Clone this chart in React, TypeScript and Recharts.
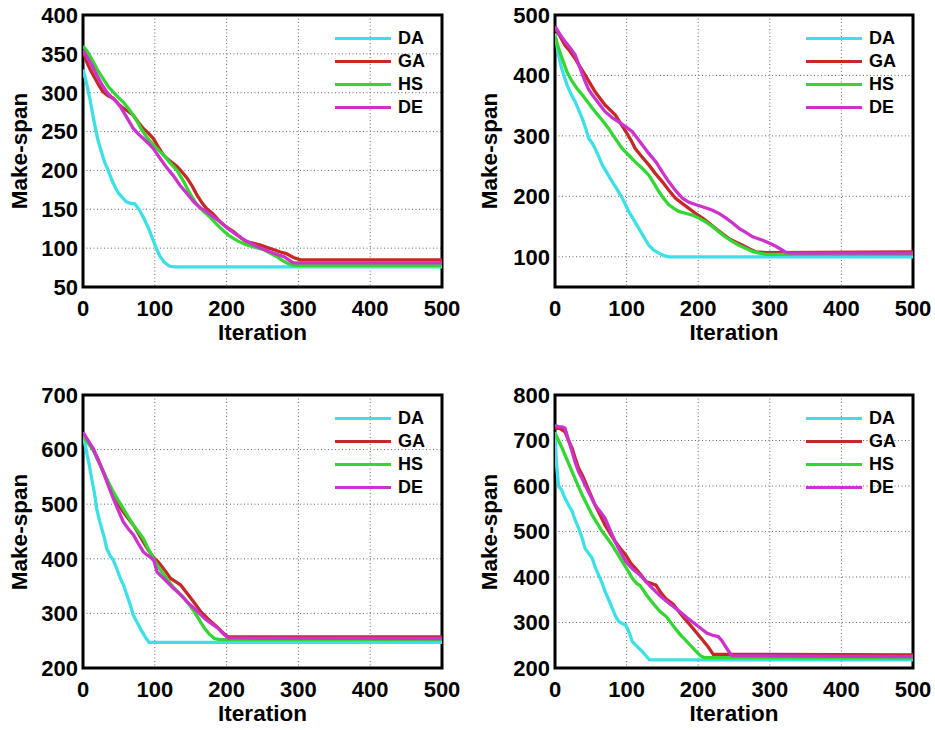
import React from "react"
import {
  LineChart,
  Line,
  XAxis,
  YAxis,
  CartesianGrid,
  ReferenceArea,
  Legend,
} from "recharts"

const FONT = "'Liberation Sans', Arial, Helvetica, sans-serif"

const SERIES_NAMES = ["DA", "GA", "HS", "DE"]
const SERIES_COLORS = ["#3ee0e8", "#c62828", "#33d633", "#cc33cc"]
const X_TICKS = [0, 100, 200, 300, 400, 500]

// [iteration, make-span]
const P1_DA = [[0, 330], [5, 312], [10, 290], [15, 265], [20, 242], [25, 226], [30, 211], [35, 200], [40, 188], [45, 178], [50, 170], [55, 165], [60, 160], [65, 158], [72, 157], [78, 150], [85, 138], [92, 124], [97, 112], [102, 100], [107, 90], [113, 82], [120, 77], [126, 76], [500, 76]]
const P1_GA = [[0, 355], [5, 340], [10, 330], [17, 318], [23, 308], [28, 301], [35, 296], [42, 293], [50, 285], [56, 280], [63, 276], [70, 271], [77, 262], [84, 254], [91, 248], [98, 241], [105, 230], [112, 220], [120, 213], [131, 205], [138, 198], [145, 190], [152, 180], [159, 168], [166, 158], [172, 151], [180, 145], [191, 134], [200, 127], [210, 121], [220, 113], [228, 108], [238, 106], [247, 104], [256, 101], [266, 98], [275, 95], [283, 93], [293, 88], [303, 85], [500, 85]]
const P1_HS = [[0, 360], [7, 352], [14, 340], [21, 328], [28, 318], [35, 308], [42, 301], [49, 294], [56, 288], [63, 280], [70, 271], [76, 262], [82, 252], [88, 244], [94, 237], [102, 229], [112, 220], [121, 210], [131, 200], [140, 186], [149, 170], [158, 157], [168, 147], [178, 139], [187, 130], [196, 122], [205, 115], [216, 109], [228, 104], [240, 101], [252, 98], [262, 93], [270, 89], [278, 84], [286, 80], [293, 78], [500, 78]]
const P1_DE = [[0, 355], [5, 347], [12, 336], [19, 323], [26, 311], [33, 301], [40, 294], [47, 288], [52, 282], [56, 276], [63, 265], [70, 254], [77, 247], [84, 241], [91, 235], [98, 228], [107, 216], [117, 203], [126, 193], [135, 181], [145, 170], [154, 160], [163, 152], [172, 147], [182, 140], [191, 134], [202, 125], [214, 117], [226, 110], [238, 104], [250, 99], [261, 95], [270, 92], [280, 89], [288, 84], [293, 81], [500, 81]]

const P2_DA = [[0, 470], [4, 440], [8, 417], [13, 398], [17, 384], [22, 370], [28, 357], [33, 343], [38, 329], [43, 312], [47, 296], [52, 288], [56, 279], [61, 266], [66, 252], [73, 238], [80, 224], [87, 211], [94, 197], [99, 185], [103, 175], [110, 161], [117, 147], [124, 133], [131, 119], [138, 111], [145, 106], [152, 102], [159, 100], [500, 100]]
const P2_GA = [[0, 478], [7, 465], [14, 450], [21, 440], [28, 428], [35, 414], [42, 401], [49, 387], [56, 373], [63, 362], [70, 351], [77, 343], [84, 335], [91, 322], [99, 307], [106, 293], [112, 279], [121, 266], [131, 252], [140, 238], [150, 224], [159, 210], [168, 197], [178, 188], [187, 180], [196, 172], [206, 164], [215, 156], [224, 147], [234, 138], [243, 130], [253, 124], [262, 119], [272, 113], [281, 108], [295, 107], [500, 108]]
const P2_HS = [[0, 465], [5, 445], [10, 428], [17, 405], [24, 390], [31, 378], [38, 368], [47, 354], [56, 340], [66, 326], [75, 312], [84, 296], [94, 279], [103, 268], [112, 257], [122, 246], [131, 235], [138, 222], [145, 208], [152, 196], [159, 186], [166, 180], [173, 175], [182, 172], [192, 169], [201, 164], [210, 158], [220, 150], [229, 141], [238, 133], [248, 125], [257, 119], [266, 114], [276, 109], [285, 106], [295, 104], [500, 104]]
const P2_DE = [[0, 481], [7, 468], [14, 456], [21, 446], [28, 434], [35, 412], [42, 390], [47, 377], [52, 368], [61, 354], [70, 340], [80, 330], [89, 323], [99, 315], [108, 307], [115, 296], [122, 285], [131, 271], [141, 257], [150, 240], [159, 224], [168, 210], [178, 197], [187, 190], [197, 186], [208, 182], [220, 177], [230, 171], [239, 164], [248, 156], [257, 147], [267, 140], [276, 133], [286, 129], [295, 125], [302, 121], [309, 117], [316, 112], [323, 107], [330, 106], [500, 106]]

const P3_DA = [[0, 627], [5, 596], [9, 570], [12, 547], [16, 520], [19, 492], [23, 470], [26, 456], [30, 437], [33, 419], [38, 405], [42, 398], [47, 382], [52, 364], [57, 350], [61, 334], [66, 315], [70, 297], [76, 282], [82, 267], [87, 256], [92, 247], [500, 247]]
const P3_GA = [[0, 630], [7, 615], [14, 602], [21, 582], [28, 560], [35, 538], [42, 517], [49, 500], [56, 486], [63, 474], [70, 462], [77, 447], [84, 431], [91, 416], [99, 401], [104, 395], [108, 389], [115, 377], [122, 364], [129, 358], [136, 352], [143, 340], [150, 328], [157, 316], [164, 303], [171, 294], [178, 285], [186, 276], [193, 267], [198, 261], [202, 257], [500, 257]]
const P3_HS = [[0, 625], [7, 612], [14, 599], [21, 580], [28, 560], [35, 541], [42, 523], [49, 507], [56, 492], [63, 477], [70, 462], [77, 450], [84, 437], [91, 418], [99, 398], [106, 383], [113, 370], [120, 358], [127, 346], [134, 337], [141, 328], [148, 316], [155, 303], [162, 288], [169, 273], [176, 262], [183, 254], [190, 252], [500, 252]]
const P3_DE = [[0, 632], [7, 617], [14, 602], [21, 581], [28, 560], [35, 535], [42, 511], [49, 489], [56, 468], [63, 455], [70, 444], [77, 428], [84, 413], [89, 407], [94, 403], [99, 396], [103, 376], [110, 367], [117, 358], [126, 346], [136, 334], [145, 321], [155, 309], [162, 300], [169, 291], [178, 282], [188, 273], [195, 263], [202, 255], [500, 254]]

const P4_DA = [[0, 719], [2, 650], [5, 600], [9, 592], [14, 573], [19, 558], [24, 544], [28, 526], [33, 507], [38, 485], [42, 463], [47, 452], [52, 441], [56, 422], [61, 404], [66, 386], [70, 368], [75, 350], [80, 331], [84, 316], [89, 302], [94, 298], [99, 294], [104, 276], [108, 258], [115, 247], [122, 236], [127, 227], [132, 218], [500, 218]]
const P4_GA = [[0, 727], [7, 726], [14, 719], [19, 700], [24, 683], [28, 662], [33, 639], [38, 624], [42, 610], [49, 584], [56, 558], [63, 536], [70, 514], [77, 496], [84, 478], [91, 463], [99, 448], [106, 430], [113, 418], [120, 405], [127, 390], [134, 386], [141, 382], [148, 365], [155, 352], [165, 340], [175, 320], [188, 296], [198, 277], [207, 260], [214, 246], [221, 230], [500, 229]]
const P4_HS = [[0, 716], [5, 700], [10, 683], [17, 657], [24, 631], [31, 605], [38, 580], [45, 558], [52, 536], [59, 518], [66, 500], [73, 485], [80, 470], [87, 452], [94, 434], [101, 416], [108, 397], [114, 386], [119, 381], [128, 360], [137, 342], [146, 325], [156, 312], [165, 293], [175, 273], [182, 262], [189, 250], [196, 238], [203, 227], [208, 223], [500, 222]]
const P4_DE = [[0, 734], [5, 730], [10, 730], [14, 727], [19, 700], [24, 675], [28, 653], [33, 631], [38, 616], [42, 602], [49, 580], [56, 558], [63, 544], [70, 529], [77, 503], [84, 478], [91, 456], [99, 434], [108, 418], [119, 404], [133, 380], [147, 358], [161, 340], [175, 323], [184, 311], [193, 300], [203, 288], [212, 277], [220, 272], [228, 269], [233, 260], [237, 250], [242, 238], [247, 227], [500, 225]]

const P1_Y_TICKS = [50, 100, 150, 200, 250, 300, 350, 400]
const P2_Y_TICKS = [100, 200, 300, 400, 500]
const P3_Y_TICKS = [200, 300, 400, 500, 600, 700]
const P4_Y_TICKS = [200, 300, 400, 500, 600, 700, 800]

const Y_AXIS_W = 70
const X_AXIS_H = 40
const PLOT_TOP = 15

function toRows(pts: number[][]) {
  return pts.map(([x, y]) => ({ x, y }))
}

function LegendBox({ payload }: any) {
  // keep the plotting order, not alphabetical
  const items = [...(payload || [])].sort(
    (a: any, b: any) => SERIES_NAMES.indexOf(a.value) - SERIES_NAMES.indexOf(b.value)
  )
  return (
    <div style={{ fontFamily: FONT }}>
      {items.map((e: any) => (
        <div key={e.value} style={{ display: "flex", alignItems: "center", height: 23 }}>
          <span style={{ display: "inline-block", width: 56, height: 3.5, background: e.color, marginRight: 7 }} />
          <span style={{ fontSize: 18, fontWeight: 700, color: "#000", lineHeight: "23px" }}>{e.value}</span>
        </div>
      ))}
    </div>
  )
}

type PanelProps = {
  left: number
  top: number
  width: number
  height: number
  plotLeft: number
  plotWidth: number
  plotHeight: number
  yDomain: [number, number]
  yTicks: number[]
  series: number[][][]
}

function Panel({ left, top, width, height, plotLeft, plotWidth, plotHeight, yDomain, yTicks, series }: PanelProps) {
  const tickStyle = { fontSize: 22, fontWeight: 700, fill: "#000", fontFamily: FONT }
  const titleStyle = {
    position: "absolute" as const,
    whiteSpace: "nowrap" as const,
    fontFamily: FONT,
    fontSize: 22.5,
    fontWeight: 700,
    color: "#000",
  }
  return (
    <div style={{ position: "absolute", left, top, width, height }}>
      <LineChart
        width={width}
        height={height}
        margin={{
          top: PLOT_TOP,
          left: plotLeft - Y_AXIS_W,
          right: width - plotLeft - plotWidth,
          bottom: height - PLOT_TOP - plotHeight - X_AXIS_H,
        }}
      >
        <CartesianGrid stroke="#666" strokeDasharray="1 2.5" strokeWidth={1} />
        <XAxis
          dataKey="x"
          type="number"
          domain={[0, 500]}
          ticks={X_TICKS}
          interval={0}
          allowDataOverflow
          tick={tickStyle}
          tickLine={false}
          tickSize={6}
          tickMargin={7}
          axisLine={false}
          height={X_AXIS_H}
        />
        <YAxis
          type="number"
          domain={yDomain}
          ticks={yTicks}
          interval={0}
          allowDataOverflow
          tick={tickStyle}
          tickLine={false}
          tickSize={5}
          tickMargin={0}
          axisLine={false}
          width={Y_AXIS_W}
        />
        <Legend
          layout="vertical"
          align="center"
          verticalAlign="middle"
          wrapperStyle={{ top: PLOT_TOP + 12, left: plotLeft + plotWidth - 107, width: 110, height: 92 }}
          content={(p: any) => <LegendBox payload={p.payload} />}
        />
        {series.map((pts, i) => (
          <Line
            key={SERIES_NAMES[i]}
            data={toRows(pts)}
            dataKey="y"
            name={SERIES_NAMES[i]}
            stroke={SERIES_COLORS[i]}
            strokeWidth={3.3}
            dot={false}
            activeDot={false}
            type="linear"
            isAnimationActive={false}
          />
        ))}
        <ReferenceArea
          x1={0}
          x2={500}
          y1={yDomain[0]}
          y2={yDomain[1]}
          fill="none"
          stroke="#000"
          strokeWidth={3}
          ifOverflow="visible"
        />
      </LineChart>
      <div
        style={{
          ...titleStyle,
          left: 20,
          top: PLOT_TOP + plotHeight / 2,
          transform: "translate(-50%, -50%) rotate(-90deg)",
        }}
      >
        Make-span
      </div>
      <div
        style={{
          ...titleStyle,
          left: plotLeft + plotWidth / 2,
          top: PLOT_TOP + plotHeight + 46,
          transform: "translate(-50%, -50%)",
        }}
      >
        Iteration
      </div>
    </div>
  )
}

export default function App() {
  return (
    <div style={{ position: "absolute", left: 0, top: 0, width: 935, height: 730, background: "#fff" }}>
      <Panel left={0} top={0} width={470} height={365} plotLeft={83} plotWidth={359} plotHeight={272}
        yDomain={[50, 400]} yTicks={P1_Y_TICKS} series={[P1_DA, P1_GA, P1_HS, P1_DE]} />
      <Panel left={470} top={0} width={465} height={365} plotLeft={85} plotWidth={358} plotHeight={272}
        yDomain={[50, 500]} yTicks={P2_Y_TICKS} series={[P2_DA, P2_GA, P2_HS, P2_DE]} />
      <Panel left={0} top={380} width={470} height={350} plotLeft={83} plotWidth={359} plotHeight={273}
        yDomain={[200, 700]} yTicks={P3_Y_TICKS} series={[P3_DA, P3_GA, P3_HS, P3_DE]} />
      <Panel left={470} top={380} width={465} height={350} plotLeft={85} plotWidth={358} plotHeight={273}
        yDomain={[200, 800]} yTicks={P4_Y_TICKS} series={[P4_DA, P4_GA, P4_HS, P4_DE]} />
    </div>
  )
}
